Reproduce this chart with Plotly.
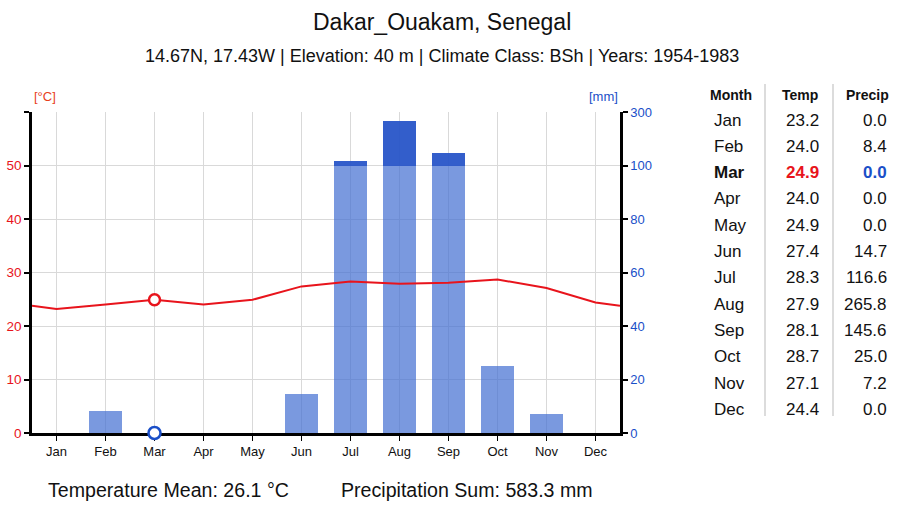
import plotly.graph_objects as go

# climate data, Dakar_Ouakam
months = ['Jan', 'Feb', 'Mar', 'Apr', 'May', 'Jun', 'Jul', 'Aug', 'Sep', 'Oct', 'Nov', 'Dec']
temp = [23.2, 24.0, 24.9, 24.0, 24.9, 27.4, 28.3, 27.9, 28.1, 28.7, 27.1, 24.4]
precip = [0.0, 8.4, 0.0, 0.0, 0.0, 14.7, 116.6, 265.8, 145.6, 25.0, 7.2, 0.0]
mm_ticks = [0, 20, 40, 60, 80, 100, 300]
c_ticks = [0, 10, 20, 30, 40, 50, 60]
highlight = 2  # Mar

RED = '#e8141c'
BLUE = '#1a4fc8'
W, H = 897, 509
L, R, T, B = 32, 620, 112, 433


def mm_to_c(v):
    # 0-100 mm -> 0-50 °C, above 100 compressed 20 mm per degree
    return v / 2 if v <= 100 else 50 + (v - 100) / 20


x = list(range(12))
low = [min(p, 100) / 2 for p in precip]
high = [max(p - 100, 0) / 20 for p in precip]
edge = (temp[0] + temp[-1]) / 2

fig = go.Figure()
fig.add_trace(go.Bar(x=x, y=low, width=0.68, marker=dict(color='rgba(65,110,210,0.7)', line_width=0)))
fig.add_trace(go.Bar(x=x, y=high, width=0.68, marker=dict(color='rgba(40,85,200,0.95)', line_width=0)))
fig.add_trace(go.Scatter(x=[-0.5] + x + [11.5], y=[edge] + temp + [edge], mode='lines',
                         line=dict(color=RED, width=2)))
fig.add_trace(go.Scatter(x=[highlight], y=[temp[highlight]], mode='markers', cliponaxis=False,
                         marker=dict(size=11, color='white', line=dict(color=RED, width=2.5))))
fig.add_trace(go.Scatter(x=[highlight], y=[mm_to_c(precip[highlight])], mode='markers', cliponaxis=False,
                         marker=dict(size=12, color='white', line=dict(color=BLUE, width=2.5))))
# invisible trace for the right axis
fig.add_trace(go.Scatter(x=[0], y=[0], yaxis='y2', mode='markers', marker=dict(opacity=0),
                         hoverinfo='skip'))

fig.update_layout(
    width=W, height=H, barmode='stack', showlegend=False,
    plot_bgcolor='white', paper_bgcolor='white',
    font=dict(family='Liberation Sans, Arial, sans-serif', color='#111'),
    margin=dict(l=L, r=W - R, t=T, b=H - B, autoexpand=False),
    xaxis=dict(range=[-0.5, 11.5], tickvals=x, ticktext=months, showgrid=True, automargin=False,
               gridcolor='#d9d9d9', gridwidth=1, showline=True, linecolor='black', linewidth=2.5,
               ticks='outside', ticklen=5, tickcolor='black', tickfont=dict(size=13, color='#111'),
               zeroline=False, fixedrange=True, layer='below traces'),
    yaxis=dict(range=[0, 60], tickvals=c_ticks, ticktext=[str(v) if v < 60 else '' for v in c_ticks],
               showgrid=True, gridcolor='#d9d9d9', gridwidth=1, showline=True, linecolor='black',
               linewidth=2.5, ticks='outside', ticklen=5, tickwidth=2, tickcolor='black',
               tickfont=dict(size=13.5, color=RED), zeroline=False, automargin=False,
               layer='below traces'),
    yaxis2=dict(range=[0, 60], overlaying='y', side='right', tickvals=[mm_to_c(v) for v in mm_ticks],
                ticktext=[str(v) for v in mm_ticks], showgrid=False, showline=True, automargin=False,
                linecolor='black', linewidth=2.5, ticks='outside', ticklen=5, tickwidth=2,
                tickcolor='black', tickfont=dict(size=13, color=BLUE), zeroline=False),
)


def px(xp):
    return (xp - L) / (R - L)


def py(yp):
    return (B - yp) / (B - T)


ann = []
ann.append(dict(x=441.5, y=22, text='Dakar_Ouakam, Senegal', size=23, anchor='center'))
ann.append(dict(x=441.5, y=56, text='14.67N, 17.43W | Elevation: 40 m | Climate Class: BSh | Years: 1954-1983',
                size=18, anchor='center'))
ann.append(dict(x=32, y=96, text='[°C]', size=13, anchor='left', color='#e8401c'))
ann.append(dict(x=620, y=96, text='[mm]', size=13, anchor='right', color=BLUE))
ann.append(dict(x=46, y=490, text='Temperature Mean: 26.1 °C', size=19.6, anchor='left'))
ann.append(dict(x=339, y=490, text='Precipitation Sum: 583.3 mm', size=19.6, anchor='left'))

# table header
ann.append(dict(x=731, y=95, text='<b>Month</b>', size=14, anchor='center'))
ann.append(dict(x=800, y=95, text='<b>Temp</b>', size=14, anchor='center'))
ann.append(dict(x=867, y=95, text='<b>Precip</b>', size=14, anchor='center'))
for i, m in enumerate(months):
    yy = 120 + i * 26.3
    hl = i == highlight
    ann.append(dict(x=712, y=yy, text=f'<b>{m}</b>' if hl else m, size=17, anchor='left'))
    ann.append(dict(x=821, y=yy, text=f'<b>{temp[i]:.1f}</b>' if hl else f'{temp[i]:.1f}', size=17,
                    anchor='right', color=RED if hl else '#111'))
    ann.append(dict(x=889, y=yy, text=f'<b>{precip[i]:.1f}</b>' if hl else f'{precip[i]:.1f}', size=17,
                    anchor='right', color=BLUE if hl else '#111'))

for a in ann:
    fig.add_annotation(x=px(a['x']), y=py(a['y']), xref='paper', yref='paper', text=a['text'],
                       showarrow=False, xanchor=a['anchor'], yanchor='middle',
                       font=dict(size=a['size'], color=a.get('color', '#111')))

for sx in [765, 833]:
    fig.add_shape(type='line', xref='paper', yref='paper', x0=px(sx), x1=px(sx), y0=py(84), y1=py(416),
                  line=dict(color='#d0d0d0', width=1.5))

fig.write_html('out.html', config={'displayModeBar': False},
               post_script="document.body.style.margin='0px';")
